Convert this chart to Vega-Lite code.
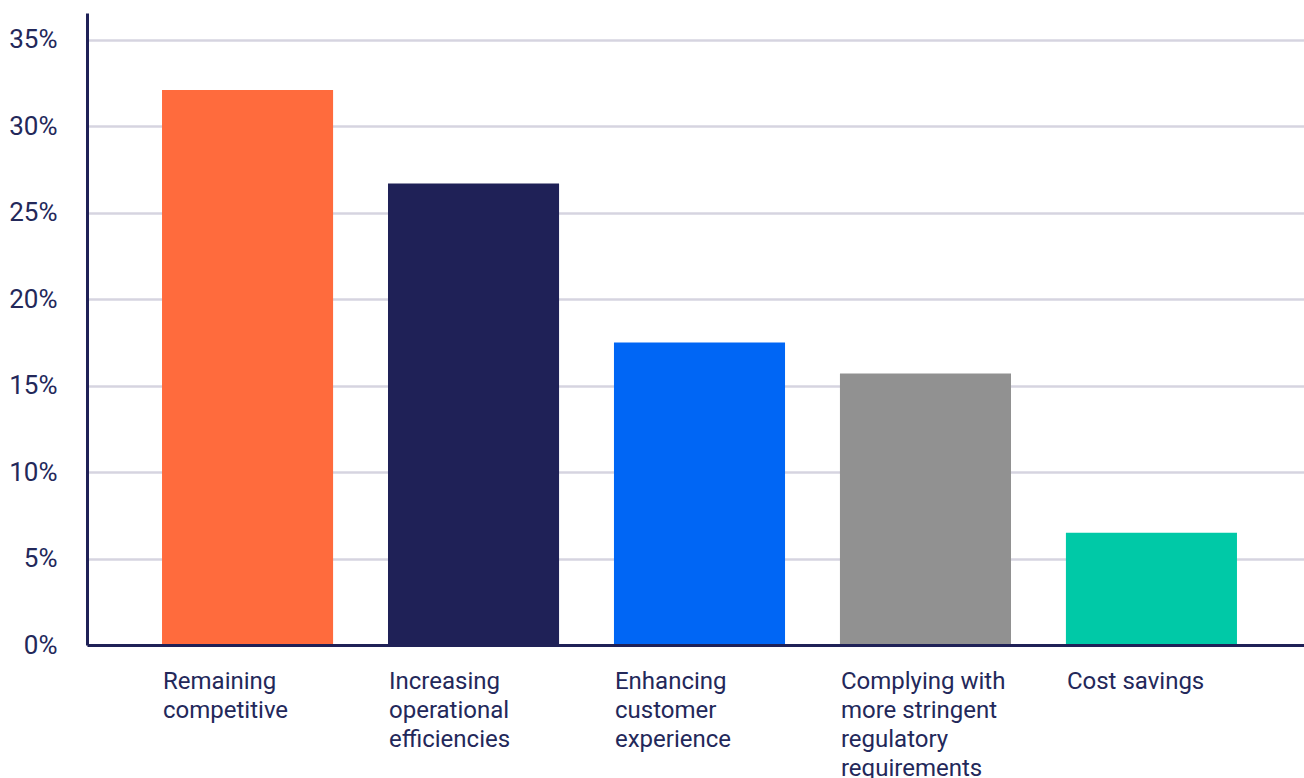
{
  "$schema": "https://vega.github.io/schema/vega-lite/v6.json",
  "autosize": {"type": "none"},
  "padding": {"left": 87, "top": 13, "right": 0, "bottom": 133},
  "width": 1225,
  "height": 632,
  "background": "white",
  "config": {
    "view": {"stroke": null},
    "font": "Roboto",
    "axis": {"labelFont": "Roboto", "labelColor": "#23285a"}
  },
  "data": {
    "values": [
      {"category": "Remaining competitive", "label": "Remaining|competitive", "value": 0.321},
      {"category": "Increasing operational efficiencies", "label": "Increasing|operational|efficiencies", "value": 0.267},
      {"category": "Enhancing customer experience", "label": "Enhancing|customer|experience", "value": 0.175},
      {"category": "Complying with more stringent regulatory requirements", "label": "Complying with|more stringent|regulatory|requirements", "value": 0.157},
      {"category": "Cost savings", "label": "Cost savings", "value": 0.065}
    ]
  },
  "encoding": {
    "x": {
      "field": "category",
      "type": "nominal",
      "sort": null,
      "scale": {"paddingInner": 0.243, "paddingOuter": 0.332},
      "axis": {"title": null, "labels": false, "ticks": false, "domainColor": "#1f2157", "domainWidth": 3, "grid": false, "zindex": 1}
    }
  },
  "layer": [
    {
      "mark": {"type": "bar"},
      "encoding": {
        "y": {
          "field": "value",
          "type": "quantitative",
          "scale": {"domain": [0, 0.3656], "nice": false},
          "axis": {
            "title": null,
            "values": [0, 0.05, 0.1, 0.15, 0.2, 0.25, 0.3, 0.35],
            "format": ".0%",
            "ticks": false,
            "labelPadding": 30,
            "labelFontSize": 26,
            "domainColor": "#1f2157",
            "domainWidth": 3,
            "gridColor": "#d6d4e0",
            "gridWidth": 2.5
          }
        },
        "color": {
          "field": "category",
          "type": "nominal",
          "sort": null,
          "legend": null,
          "scale": {"range": ["#ff6b3d", "#1f2157", "#0066f5", "#919191", "#00c9a7"]}
        }
      }
    },
    {
      "mark": {
        "type": "text",
        "align": "left",
        "baseline": "top",
        "dy": 25,
        "dx": 1,
        "fontSize": 24,
        "lineHeight": 29,
        "lineBreak": "|",
        "color": "#23285a",
        "font": "Roboto"
      },
      "encoding": {
        "x": {"field": "category", "type": "nominal", "sort": null, "bandPosition": 0},
        "y": {"datum": 0, "type": "quantitative"},
        "text": {"field": "label"}
      }
    }
  ]
}
